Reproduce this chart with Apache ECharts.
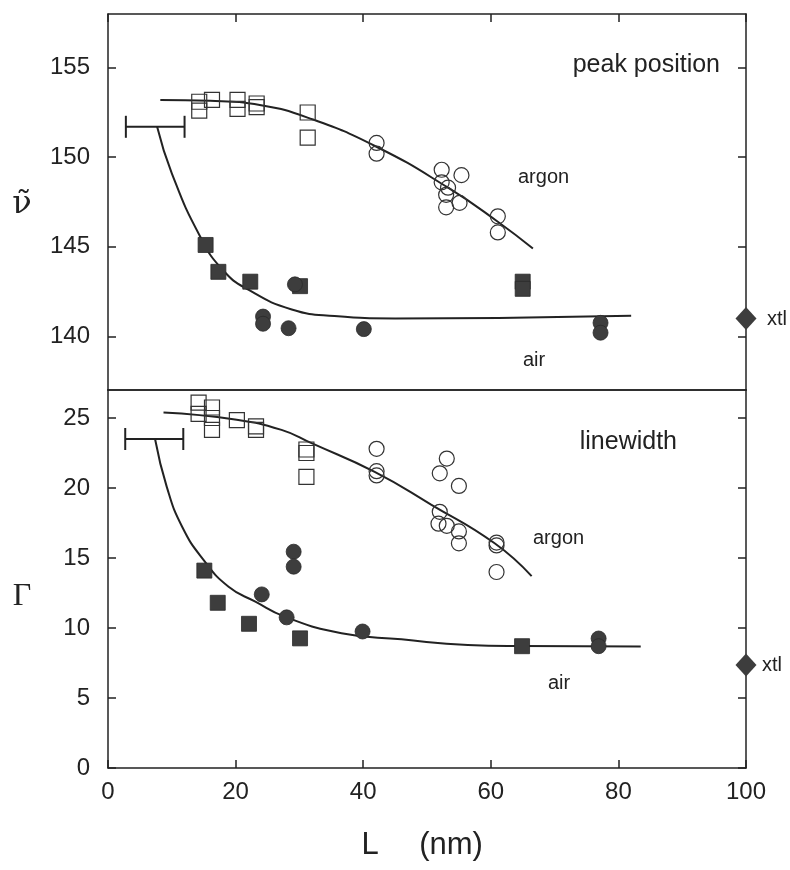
<!DOCTYPE html>
<html>
<head>
<meta charset="utf-8">
<script src="https://cdn.jsdelivr.net/npm/echarts@6/dist/echarts.min.js"></script>
<style>
  html, body { margin: 0; padding: 0; background: #fff; }
  #chart { width: 790px; height: 870px; }
</style>
</head>
<body>
<div id="chart"></div>
<script>
// tick labels
var xTicks = [0, 20, 40, 60, 80, 100];
var peakTicks = [140, 145, 150, 155];
var widthTicks = [0, 5, 10, 15, 20, 25];

// ---- peak position (top panel), [L nm, wavenumber]
var peakArgonSquares = [[14.3, 153.1], [14.3, 152.6], [16.3, 153.2], [20.3, 153.2], [20.3, 152.7],
    [23.3, 153.0], [23.3, 152.8], [31.3, 152.5], [31.3, 151.1]];
var peakArgonCircles = [[42.1, 150.8], [42.1, 150.2], [52.3, 149.3], [55.4, 149.0], [52.3, 148.6],
    [53.3, 148.3], [53.0, 147.9], [55.1, 147.45], [53.0, 147.2], [61.1, 146.7], [61.1, 145.8]];
var peakArgonFit = [[8.2, 153.2], [16, 153.15], [24, 152.9], [31.4, 152.2], [42, 150.6],
    [53.3, 148.3], [61.1, 146.4], [66.6, 144.9]];
var peakAirSquares = [[15.3, 145.1], [17.3, 143.6], [22.3, 143.05], [30.1, 142.8], [65, 143.05], [65, 142.65]];
var peakAirCircles = [[29.3, 142.9], [24.3, 141.1], [24.3, 140.7], [28.3, 140.45], [40.1, 140.4],
    [77.2, 140.75], [77.2, 140.2]];
var peakAirFit = [[7.7, 151.7], [10, 149.1], [14.4, 145.6], [18, 143.7], [22, 142.6], [28.8, 141.5],
    [35.5, 141.13], [45, 141.0], [82, 141.15]];
var peakXtl = [[100, 141.0]];
var peakErrBar = [[2.8, 12.0, 151.7]]; // [from, to, y]

// ---- linewidth (bottom panel), [L nm, width]
var widthArgonSquares = [[14.2, 26.1], [14.2, 25.3], [16.3, 25.75], [16.3, 25.0], [16.3, 24.15], [20.2, 24.85],
    [23.2, 24.4], [23.2, 24.15], [31.1, 22.75], [31.1, 22.5], [31.1, 20.8]];
var widthArgonCircles = [[42.1, 22.8], [42.1, 21.2], [42.1, 20.9], [53.1, 22.1], [52.0, 21.05], [55.0, 20.15],
    [52.0, 18.3], [51.8, 17.45], [53.1, 17.3], [55.0, 16.9], [55.0, 16.05], [60.9, 16.1], [60.9, 15.9], [60.9, 14.0]];
var widthArgonFit = [[8.7, 25.4], [19.9, 24.9], [27.2, 24.15], [31.9, 23.2], [41.8, 21.15],
    [50.7, 18.8], [60.6, 16.05], [66.4, 13.7]];
var widthAirSquares = [[15.1, 14.1], [17.2, 11.8], [22.1, 10.3], [30.1, 9.26], [64.9, 8.7]];
var widthAirCircles = [[29.1, 15.45], [29.1, 14.38], [24.1, 12.4], [28.0, 10.76], [39.9, 9.75],
    [76.9, 9.25], [76.9, 8.7]];
var widthAirFit = [[7.4, 23.45], [9.2, 20.1], [11.6, 17.25], [15, 14.85], [18.9, 12.95], [23.1, 11.88],
    [27.7, 10.81], [36.6, 9.62], [46, 9.19], [56.4, 8.79], [64.9, 8.71], [83.5, 8.67]];
var widthXtl = [[100, 7.35]];
var widthErrBar = [[2.7, 11.8, 23.5]];

(function () {
    var ink = '#222';
    var fillGray = '#3d3d3d';
    var font = 'Liberation Sans, Arial, sans-serif';

    function xAxis(grid, pos, ticks, labels) {
        return {
            type: 'value', gridIndex: grid, position: pos, min: 0, max: 100, interval: 20,
            axisLine: { show: true, onZero: false, lineStyle: { color: ink, width: 1.5 } },
            axisTick: { show: ticks, inside: true, length: 8, lineStyle: { color: ink, width: 1.5 } },
            axisLabel: { show: labels, color: ink, fontSize: 24, fontFamily: font, margin: 12 },
            splitLine: { show: false }
        };
    }
    function yAxis(grid, pos, min, max, ticks, labels) {
        return {
            type: 'value', gridIndex: grid, position: pos, min: min, max: max,
            axisLine: { show: true, onZero: false, lineStyle: { color: ink, width: 1.5 } },
            axisTick: { show: true, inside: true, length: 8, customValues: ticks, lineStyle: { color: ink, width: 1.5 } },
            axisLabel: { show: labels, customValues: ticks, color: ink, fontSize: 24, fontFamily: font, margin: 18 },
            splitLine: { show: false }
        };
    }
    function openPts(data, sym, xi, yi) {
        return {
            type: 'scatter', xAxisIndex: xi, yAxisIndex: yi, data: data, symbol: sym, symbolSize: 15,
            itemStyle: { color: 'rgba(255,255,255,0)', borderColor: '#333', borderWidth: 1.2, opacity: 1 }, z: 3
        };
    }
    function filledPts(data, sym, xi, yi) {
        return {
            type: 'scatter', xAxisIndex: xi, yAxisIndex: yi, data: data, symbol: sym, symbolSize: 15,
            itemStyle: { color: fillGray, borderColor: '#2a2a2a', borderWidth: 0.8, opacity: 1 }, z: 3
        };
    }
    function fit(data, xi, yi) {
        return {
            type: 'line', xAxisIndex: xi, yAxisIndex: yi, data: data, smooth: 0.5,
            showSymbol: false, lineStyle: { color: ink, width: 2 }, z: 2
        };
    }
    function xtl(data, xi, yi) {
        return {
            type: 'scatter', xAxisIndex: xi, yAxisIndex: yi, data: data, symbol: 'diamond', symbolSize: [21, 23],
            clip: false, itemStyle: { color: fillGray, opacity: 1 }, z: 4
        };
    }
    function errBar(data, xi, yi) {
        return {
            type: 'custom', xAxisIndex: xi, yAxisIndex: yi, data: data, encode: { x: [0, 1], y: 2 },
            renderItem: function (params, api) {
                var a = api.coord([api.value(0), api.value(2)]);
                var b = api.coord([api.value(1), api.value(2)]);
                var st = { stroke: ink, lineWidth: 2 };
                return {
                    type: 'group', children: [
                        { type: 'line', shape: { x1: a[0], y1: a[1], x2: b[0], y2: b[1] }, style: st },
                        { type: 'line', shape: { x1: a[0], y1: a[1] - 11, x2: a[0], y2: a[1] + 11 }, style: st },
                        { type: 'line', shape: { x1: b[0], y1: b[1] - 11, x2: b[0], y2: b[1] + 11 }, style: st }
                    ]
                };
            }
        };
    }
    function label(text, x, y, size, align, fam) {
        return {
            type: 'text', x: x, y: y,
            style: {
                text: text, fill: ink, font: size + 'px ' + (fam || font),
                align: align, textAlign: align, verticalAlign: 'middle', textVerticalAlign: 'middle'
            }
        };
    }

    var chart = echarts.init(document.getElementById('chart'));
    var option = {
        backgroundColor: '#fff',
        animation: false,
        grid: [
            { left: 108, top: 14, width: 638, height: 376 },
            { left: 108, top: 390, width: 638, height: 378 }
        ],
        xAxis: [
            xAxis(0, 'bottom', false, false),
            xAxis(0, 'top', true, false),
            xAxis(1, 'top', false, false),
            xAxis(1, 'bottom', true, true)
        ],
        yAxis: [
            yAxis(0, 'left', 137, 158, peakTicks, true),
            yAxis(0, 'right', 137, 158, peakTicks, false),
            yAxis(1, 'left', 0, 27, widthTicks, true),
            yAxis(1, 'right', 0, 27, widthTicks, false)
        ],
        series: [
            fit(peakArgonFit, 0, 0),
            fit(peakAirFit, 0, 0),
            errBar(peakErrBar, 0, 0),
            openPts(peakArgonSquares, 'rect', 0, 0),
            openPts(peakArgonCircles, 'circle', 0, 0),
            filledPts(peakAirSquares, 'rect', 0, 0),
            filledPts(peakAirCircles, 'circle', 0, 0),
            xtl(peakXtl, 0, 0),

            fit(widthArgonFit, 3, 2),
            fit(widthAirFit, 3, 2),
            errBar(widthErrBar, 3, 2),
            openPts(widthArgonSquares, 'rect', 3, 2),
            openPts(widthArgonCircles, 'circle', 3, 2),
            filledPts(widthAirSquares, 'rect', 3, 2),
            filledPts(widthAirCircles, 'circle', 3, 2),
            xtl(widthXtl, 3, 2)
        ],
        graphic: [
            label('peak position', 720, 65, 25, 'right'),
            label('argon', 518, 177, 20, 'left'),
            label('air', 523, 360, 20, 'left'),
            label('xtl', 767, 319, 20, 'left'),
            label('linewidth', 677, 442, 25, 'right'),
            label('argon', 533, 538, 20, 'left'),
            label('air', 548, 683, 20, 'left'),
            label('xtl', 762, 665, 20, 'left'),
            label('\u03BD\u0303', 22, 205, 32, 'center', 'DejaVu Serif, serif'),
            label('\u0393', 22, 597, 32, 'center', 'Liberation Serif, serif'),
            label('L', 370, 845, 31, 'center'),
            label('(nm)', 451, 845, 31, 'center')
        ]
    };
    chart.setOption(option);
})();
</script>
</body>
</html>
